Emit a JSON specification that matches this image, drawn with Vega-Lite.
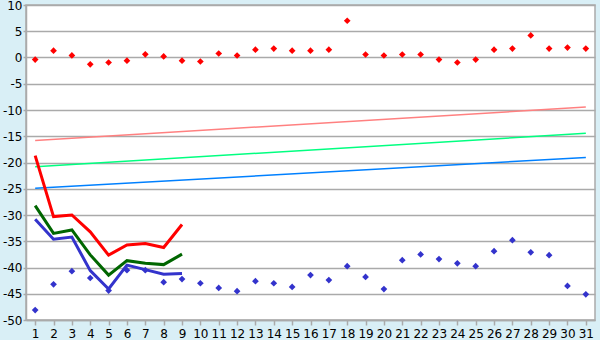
{
  "$schema": "https://vega.github.io/schema/vega-lite/v6.json",
  "autosize": "none",
  "width": 569,
  "height": 315,
  "padding": {"left": 26, "top": 5, "right": 5, "bottom": 20},
  "background": "#d9eff6",
  "config": {
    "view": {"fill": "white", "stroke": "#aaaaaa", "strokeWidth": 1.5},
    "axis": {"labelFont": "DejaVu Sans", "labelFontSize": 12, "labelColor": "#000000", "domainColor": "#aaaaaa", "tickColor": "#aaaaaa", "gridColor": "#aaaaaa", "domainWidth": 1.5, "tickWidth": 1.5, "gridWidth": 1.5}
  },
  "datasets": {
    "lines": [
      {"day": 1, "value": -18.7, "series": "Max"},
      {"day": 2, "value": -30.3, "series": "Max"},
      {"day": 3, "value": -30.0, "series": "Max"},
      {"day": 4, "value": -33.2, "series": "Max"},
      {"day": 5, "value": -37.65, "series": "Max"},
      {"day": 6, "value": -35.7, "series": "Max"},
      {"day": 7, "value": -35.45, "series": "Max"},
      {"day": 8, "value": -36.2, "series": "Max"},
      {"day": 9, "value": -31.8, "series": "Max"},
      {"day": 1, "value": -28.2, "series": "Mean"},
      {"day": 2, "value": -33.5, "series": "Mean"},
      {"day": 3, "value": -32.85, "series": "Mean"},
      {"day": 4, "value": -37.6, "series": "Mean"},
      {"day": 5, "value": -41.45, "series": "Mean"},
      {"day": 6, "value": -38.7, "series": "Mean"},
      {"day": 7, "value": -39.2, "series": "Mean"},
      {"day": 8, "value": -39.45, "series": "Mean"},
      {"day": 9, "value": -37.45, "series": "Mean"},
      {"day": 1, "value": -30.8, "series": "Min"},
      {"day": 2, "value": -34.6, "series": "Min"},
      {"day": 3, "value": -34.2, "series": "Min"},
      {"day": 4, "value": -40.6, "series": "Min"},
      {"day": 5, "value": -44.1, "series": "Min"},
      {"day": 6, "value": -39.55, "series": "Min"},
      {"day": 7, "value": -40.4, "series": "Min"},
      {"day": 8, "value": -41.3, "series": "Min"},
      {"day": 9, "value": -41.15, "series": "Min"}
    ],
    "norms": [
      {"day": 1, "value": -15.8, "series": "Norm max"},
      {"day": 31, "value": -9.45, "series": "Norm max"},
      {"day": 1, "value": -20.8, "series": "Norm mean"},
      {"day": 31, "value": -14.45, "series": "Norm mean"},
      {"day": 1, "value": -24.9, "series": "Norm min"},
      {"day": 31, "value": -19.05, "series": "Norm min"}
    ],
    "records": [
      {"day": 1, "value": -0.4, "series": "Record high"},
      {"day": 2, "value": 1.3, "series": "Record high"},
      {"day": 3, "value": 0.4, "series": "Record high"},
      {"day": 4, "value": -1.3, "series": "Record high"},
      {"day": 5, "value": -0.95, "series": "Record high"},
      {"day": 6, "value": -0.6, "series": "Record high"},
      {"day": 7, "value": 0.6, "series": "Record high"},
      {"day": 8, "value": 0.2, "series": "Record high"},
      {"day": 9, "value": -0.6, "series": "Record high"},
      {"day": 10, "value": -0.76, "series": "Record high"},
      {"day": 11, "value": 0.76, "series": "Record high"},
      {"day": 12, "value": 0.38, "series": "Record high"},
      {"day": 13, "value": 1.5, "series": "Record high"},
      {"day": 14, "value": 1.7, "series": "Record high"},
      {"day": 15, "value": 1.3, "series": "Record high"},
      {"day": 16, "value": 1.3, "series": "Record high"},
      {"day": 17, "value": 1.5, "series": "Record high"},
      {"day": 18, "value": 7.0, "series": "Record high"},
      {"day": 19, "value": 0.57, "series": "Record high"},
      {"day": 20, "value": 0.38, "series": "Record high"},
      {"day": 21, "value": 0.57, "series": "Record high"},
      {"day": 22, "value": 0.57, "series": "Record high"},
      {"day": 23, "value": -0.4, "series": "Record high"},
      {"day": 24, "value": -0.95, "series": "Record high"},
      {"day": 25, "value": -0.4, "series": "Record high"},
      {"day": 26, "value": 1.5, "series": "Record high"},
      {"day": 27, "value": 1.7, "series": "Record high"},
      {"day": 28, "value": 4.2, "series": "Record high"},
      {"day": 29, "value": 1.7, "series": "Record high"},
      {"day": 30, "value": 1.9, "series": "Record high"},
      {"day": 31, "value": 1.7, "series": "Record high"},
      {"day": 1, "value": -48.1, "series": "Record low"},
      {"day": 2, "value": -43.2, "series": "Record low"},
      {"day": 3, "value": -40.7, "series": "Record low"},
      {"day": 4, "value": -42.0, "series": "Record low"},
      {"day": 5, "value": -44.4, "series": "Record low"},
      {"day": 6, "value": -40.5, "series": "Record low"},
      {"day": 7, "value": -40.5, "series": "Record low"},
      {"day": 8, "value": -42.8, "series": "Record low"},
      {"day": 9, "value": -42.2, "series": "Record low"},
      {"day": 10, "value": -43.0, "series": "Record low"},
      {"day": 11, "value": -43.9, "series": "Record low"},
      {"day": 12, "value": -44.5, "series": "Record low"},
      {"day": 13, "value": -42.6, "series": "Record low"},
      {"day": 14, "value": -43.0, "series": "Record low"},
      {"day": 15, "value": -43.7, "series": "Record low"},
      {"day": 16, "value": -41.45, "series": "Record low"},
      {"day": 17, "value": -42.4, "series": "Record low"},
      {"day": 18, "value": -39.75, "series": "Record low"},
      {"day": 19, "value": -41.8, "series": "Record low"},
      {"day": 20, "value": -44.1, "series": "Record low"},
      {"day": 21, "value": -38.6, "series": "Record low"},
      {"day": 22, "value": -37.5, "series": "Record low"},
      {"day": 23, "value": -38.4, "series": "Record low"},
      {"day": 24, "value": -39.2, "series": "Record low"},
      {"day": 25, "value": -39.75, "series": "Record low"},
      {"day": 26, "value": -36.9, "series": "Record low"},
      {"day": 27, "value": -34.8, "series": "Record low"},
      {"day": 28, "value": -37.1, "series": "Record low"},
      {"day": 29, "value": -37.65, "series": "Record low"},
      {"day": 30, "value": -43.5, "series": "Record low"},
      {"day": 31, "value": -45.1, "series": "Record low"}
    ]
  },
  "encoding": {
    "x": {
      "field": "day", "type": "ordinal",
      "scale": {"type": "point", "padding": 0.5, "domain": [1,2,3,4,5,6,7,8,9,10,11,12,13,14,15,16,17,18,19,20,21,22,23,24,25,26,27,28,29,30,31]},
      "axis": {"title": null, "labelAngle": 0, "grid": false, "tickSize": 5, "labelPadding": 3}
    },
    "y": {
      "field": "value", "type": "quantitative",
      "scale": {"domain": [-50, 10], "nice": false, "zero": false},
      "axis": {"title": null, "values": [-50,-45,-40,-35,-30,-25,-20,-15,-10,-5,0,5,10], "labelExpr": "'' + datum.value", "tickSize": 3, "labelPadding": 1, "grid": true}
    },
    "color": {
      "field": "series", "type": "nominal", "legend": null,
      "scale": {
        "domain": ["Max", "Mean", "Min", "Norm max", "Norm mean", "Norm min", "Record high", "Record low"],
        "range": ["#ff0000", "#006600", "#3333cc", "#ff8080", "#00ff80", "#0080ff", "#ff0000", "#3333cc"]
      }
    }
  },
  "layer": [
    {"data": {"name": "norms"}, "mark": {"type": "line", "strokeWidth": 1.5}},
    {"data": {"name": "lines"}, "mark": {"type": "line", "strokeWidth": 3}},
    {"data": {"name": "records"}, "mark": {"type": "point", "shape": "diamond", "filled": true, "size": 45, "opacity": 1}}
  ]
}
